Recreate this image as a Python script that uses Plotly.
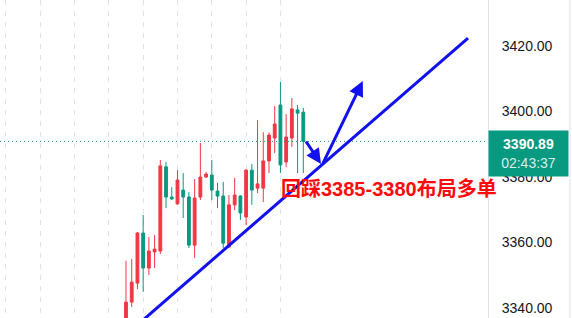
import plotly.graph_objects as go

# ---- data ----
idx = list(range(32))
open_ = [3333.0, 3341.8, 3347.6, 3362.9, 3352.2, 3357.1, 3357.4, 3383.1, 3373.9, 3371.8,
         3376.0, 3373.9, 3359.2, 3373.9, 3380.0, 3380.6, 3375.7, 3374.2, 3358.6, 3371.5,
         3374.2, 3367.8, 3382.1, 3376.6, 3376.6, 3384.9, 3391.9, 3402.0, 3384.6, 3391.9,
         3400.5, 3399.8]
high = [3354.4, 3355.0, 3363.2, 3368.4, 3361.7, 3362.3, 3385.2, 3384.6, 3376.9, 3382.1,
        3381.2, 3375.4, 3379.4, 3390.4, 3381.5, 3385.2, 3378.2, 3378.5, 3374.5, 3379.7,
        3374.5, 3382.4, 3384.0, 3397.4, 3393.7, 3393.6, 3401.7, 3409.0, 3399.2, 3404.1,
        3402.0, 3401.1]
low = [3328.0, 3340.3, 3345.8, 3344.9, 3350.1, 3352.2, 3356.5, 3370.5, 3373.0, 3371.5,
       3367.5, 3358.3, 3355.3, 3373.0, 3379.7, 3373.0, 3370.5, 3358.3, 3358.3, 3369.9,
       3366.9, 3365.3, 3371.5, 3375.1, 3372.4, 3381.2, 3387.3, 3381.2, 3383.0, 3389.2,
       3381.2, 3381.2]
close = [3341.8, 3347.9, 3362.9, 3352.2, 3357.4, 3358.0, 3383.4, 3373.9, 3373.3, 3379.1,
         3373.9, 3359.2, 3373.6, 3380.0, 3380.9, 3376.0, 3374.2, 3359.8, 3371.5, 3374.5,
         3369.0, 3382.1, 3376.0, 3377.9, 3384.9, 3392.8, 3396.2, 3383.7, 3392.2, 3400.8,
         3399.5, 3390.89]

y_ticks = [3340, 3360, 3380, 3400, 3420]
grid_x = [-21, -15, -9, -3, 3, 9, 15, 21, 27]
countdown = "02:43:37"
note_text = "回踩3385-3380布局多单"

# drawings (in data coordinates: candle index, price)
trend_line = [(-1.2, 3330.0), (59.8, 3422.4)]
arrow_down = [(31.3, 3391.3), (34.1, 3384.0)]
arrow_up = [(34.3, 3383.7), (41.4, 3409.3)]
note_pos = (26.75, 3376.3)

RED = "#F23645"
GREEN = "#089981"
BLUE = "#1010F0"

fig = go.Figure()
fig.add_trace(go.Candlestick(
    x=idx, open=open_, high=high, low=low, close=close,
    increasing=dict(line=dict(color=RED, width=1), fillcolor=RED),
    decreasing=dict(line=dict(color=GREEN, width=1), fillcolor=GREEN),
    whiskerwidth=0, showlegend=False, hoverinfo="skip",
))

last = close[-1]

# last price dotted line
fig.add_shape(type="line", xref="paper", x0=0, x1=1, yref="y", y0=last, y1=last,
              line=dict(color=GREEN, width=1, dash="1px,3px"))
# trend line
fig.add_shape(type="line", xref="x", yref="y",
              x0=trend_line[0][0], y0=trend_line[0][1], x1=trend_line[1][0], y1=trend_line[1][1],
              line=dict(color=BLUE, width=3))
# right border line
fig.add_shape(type="line", xref="paper", yref="paper", x0=1.168, x1=1.168, y0=0, y1=1,
              line=dict(color="#e0e3eb", width=1))

# arrows
for (tail, tip) in (arrow_down, arrow_up):
    fig.add_annotation(x=tip[0], y=tip[1], ax=tail[0], ay=tail[1], axref="x", ayref="y",
                       xref="x", yref="y", text="", showarrow=True, arrowhead=2,
                       arrowsize=1, arrowwidth=3, arrowcolor=BLUE)

# price label box
fig.add_annotation(
    xref="paper", x=1, xanchor="left", yref="y", y=last, yanchor="top", yshift=11,
    text=f"<b>{last:.2f}</b><br><span style='color:rgba(255,255,255,0.85)'>{countdown}</span>",
    showarrow=False, bgcolor=GREEN, width=75, height=41, borderpad=2, align="center",
    font=dict(family="Liberation Sans, Arial", size=14, color="white"),
)

# note text
fig.add_annotation(
    xref="x", yref="y", x=note_pos[0], y=note_pos[1], xanchor="left", yanchor="middle",
    text=f"<b>{note_text}</b>", showarrow=False,
    font=dict(family="Liberation Sans, Noto Sans CJK SC", size=20, color="#FF0A0A"),
)

fig.update_layout(
    width=572, height=318, margin=dict(l=0, r=84, t=0, b=0),
    paper_bgcolor="white", plot_bgcolor="white", showlegend=False,
    xaxis=dict(range=[-22.03, 63.29], tickvals=grid_x, showticklabels=False,
               showgrid=True, gridcolor="#e0e3eb", griddash="5px,6px", gridwidth=1,
               zeroline=False, rangeslider=dict(visible=False), fixedrange=True),
    yaxis=dict(side="right", range=[3336.95, 3434.05], tickvals=y_ticks,
               ticktext=[f"{v:.2f}" for v in y_ticks], showgrid=False, zeroline=False,
               showline=True, linecolor="#e0e3eb", linewidth=1, ticks="",
               ticklabelstandoff=10,
               tickfont=dict(family="Liberation Sans, Arial", size=14, color="#131722")),
)

fig.write_html("out.html", config={"displayModeBar": False})
